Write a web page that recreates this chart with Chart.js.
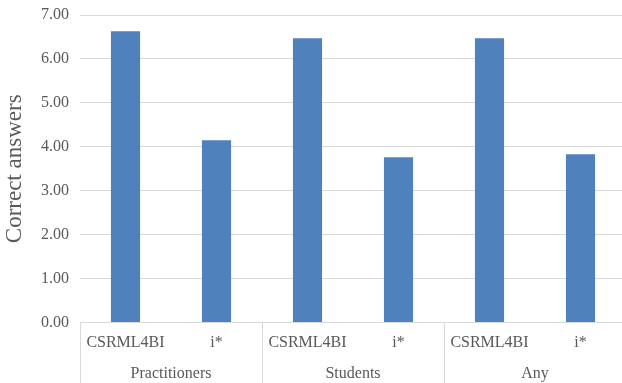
<!DOCTYPE html>
<html>
<head>
<meta charset="utf-8">
<script src="https://cdn.jsdelivr.net/npm/chart.js@4"></script>
<style>
html,body{margin:0;padding:0;background:#fff;overflow:hidden;width:622px;height:383px;}
#wrap{width:626px;height:383px;position:relative;}
</style>
</head>
<body>
<div id="wrap"><canvas id="c"></canvas></div>
<script>
const categories = ["CSRML4BI", "i*", "CSRML4BI", "i*", "CSRML4BI", "i*"];
const groups = ["Practitioners", "Students", "Any"];
const correctAnswers = [6.63, 4.15, 6.47, 3.76, 6.47, 3.83];
const yTicks = [0, 1, 2, 3, 4, 5, 6, 7];
const yTitle = "Correct answers";

const TEXT = '#595959';
const GRID = '#d9d9d9';
const FONT = "'Liberation Serif', 'Times New Roman', serif";

const groupLines = {
  id: 'groupLines',
  afterDraw(chart) {
    const x = chart.scales.x;
    const ctx = chart.ctx;
    const per = categories.length / groups.length;
    ctx.save();
    ctx.strokeStyle = GRID;
    ctx.lineWidth = 1;
    for (let g = 0; g <= groups.length; g++) {
      const idx = g * per;
      let px;
      if (idx === 0) px = x.left;
      else if (idx === categories.length) px = x.right;
      else px = (x.getPixelForValue(idx - 1) + x.getPixelForValue(idx)) / 2;
      px = Math.round(px) + 0.5;
      ctx.beginPath();
      ctx.moveTo(px, chart.chartArea.bottom);
      ctx.lineTo(px, chart.height);
      ctx.stroke();
    }
    ctx.restore();
  }
};

new Chart(document.getElementById('c'), {
  type: 'bar',
  data: {
    labels: categories,
    datasets: [{
      data: correctAnswers,
      backgroundColor: '#4F81BD',
      borderWidth: 0,
      categoryPercentage: 1,
      barPercentage: 0.32
    }]
  },
  options: {
    responsive: true,
    maintainAspectRatio: false,
    animation: false,
    layout: { padding: { top: 15, right: 0, bottom: 0, left: 0 } },
    plugins: { legend: { display: false }, tooltip: { enabled: false } },
    scales: {
      y: {
        min: 0, max: 7,
        afterBuildTicks(scale) { scale.ticks = yTicks.map(v => ({ value: v })); },
        afterFit(scale) { scale.width = 80; scale.paddingTop = 0; scale.paddingBottom = 0; },
        border: { display: false },
        grid: { color: GRID, lineWidth: 1, drawTicks: false },
        ticks: {
          padding: 11,
          color: TEXT,
          font: { family: FONT, size: 16 },
          callback: v => Number(v).toFixed(2)
        },
        title: {
          display: true,
          text: yTitle,
          color: TEXT,
          font: { family: FONT, size: 23 },
          padding: { top: 1, bottom: 0 }
        }
      },
      x: {
        weight: 0,
        afterFit(scale) { scale.paddingLeft = 0; scale.paddingRight = 0; },
        border: { display: false },
        grid: { display: false, drawTicks: false },
        ticks: {
          padding: 11,
          color: TEXT,
          font: { family: FONT, size: 16 },
          maxRotation: 0,
          autoSkip: false
        }
      },
      x2: {
        type: 'category',
        labels: groups,
        position: 'bottom',
        offset: true,
        weight: 1,
        afterFit(scale) { scale.paddingLeft = 0; scale.paddingRight = 0; },
        border: { display: false },
        grid: { display: false, drawTicks: false },
        ticks: {
          padding: 0,
          color: TEXT,
          font: { family: FONT, size: 16 },
          maxRotation: 0,
          autoSkip: false
        }
      }
    }
  },
  plugins: [groupLines]
});
</script>
</body>
</html>
